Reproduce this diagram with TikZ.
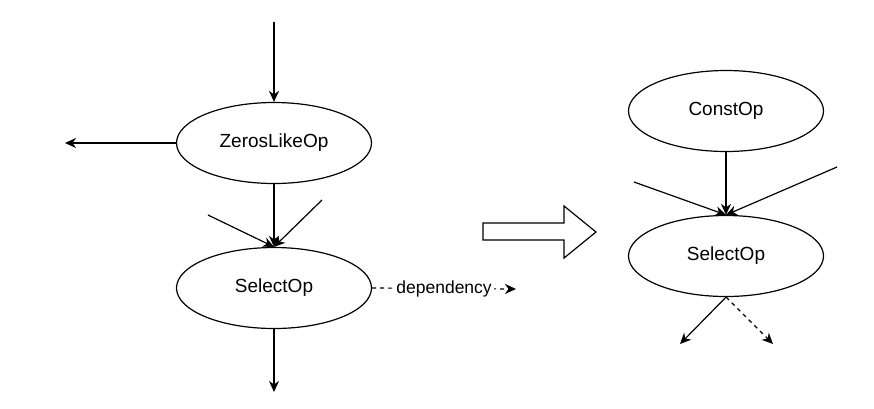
\documentclass[tikz,border=0pt]{standalone}
\usepackage{fontspec}
\setmainfont{Liberation Sans}
\usetikzlibrary{arrows.meta, shapes.geometric}

\begin{document}
\begin{tikzpicture}[
  x=1pt, y=-1pt,
  op/.style={ellipse, draw, line width=1.2pt,
             minimum width=195pt, minimum height=81pt, inner sep=0pt,
             font=\fontsize{19}{23}\selectfont},
  arr/.style={-{Stealth[length=11pt, width=10pt, inset=3.5pt]}, line width=1.2pt},
  dep/.style={arr, dash pattern=on 4pt off 4pt}
]
  \useasboundingbox (0,0) rectangle (874,408);

  % before
  \node[op] (zeros) at (274,143) {ZerosLikeOp};
  \node[op] (selL)  at (274,288) {SelectOp};
  \coordinate (inL)  at (274,22);
  \coordinate (outZ) at (65,143);
  \coordinate (aL)   at (208,215);
  \coordinate (bL)   at (322,200);
  \coordinate (outL) at (274,392);
  \coordinate (depL) at (516,289);

  \draw[arr] (inL) -- (zeros);
  \draw[arr] (zeros) -- (outZ);
  \draw[arr] (zeros) -- (selL);
  \foreach \a in {aL,bL}
    \draw[arr] (\a) -- (selL.north);
  \draw[arr] (selL) -- (outL);
  \draw[dep] (selL.east) -- (depL)
    node[midway, fill=white, inner sep=2pt, font=\fontsize{17.5}{21}\selectfont] (deplabel) {dependency};

  % transform
  \draw[line width=1.2pt] (483,223) -- (564,223) -- (564,206) -- (596,232)
    -- (564,258) -- (564,240) -- (483,240) -- cycle;

  % after
  \node[op] (const) at (726,111) {ConstOp};
  \node[op] (selR)  at (726,256) {SelectOp};
  \coordinate (aR)   at (634,182);
  \coordinate (bR)   at (837,167);
  \coordinate (outR) at (680,344);
  \coordinate (depR) at (773,344);

  \draw[arr] (const) -- (selR);
  \foreach \a in {aR,bR}
    \draw[arr] (\a) -- (selR.north);
  \draw[arr] (selR.south) -- (outR);
  \draw[dep] (selR.south) -- (depR);
\end{tikzpicture}
\end{document}
